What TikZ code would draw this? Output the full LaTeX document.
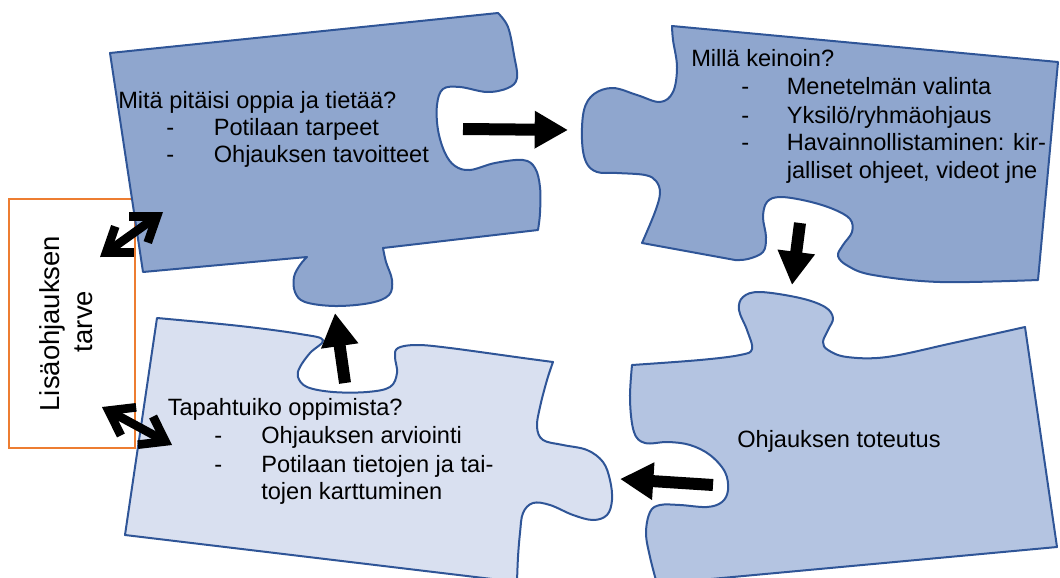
\documentclass[tikz,border=0pt]{standalone}
\usepackage{fontspec}
\setmainfont{Liberation Sans}
\usetikzlibrary{arrows.meta}
\definecolor{pieceDark}{RGB}{143,166,206}
\definecolor{pieceMid}{RGB}{180,196,225}
\definecolor{pieceLight}{RGB}{217,224,240}
\definecolor{pieceEdge}{RGB}{47,85,151}
\definecolor{boxOrange}{RGB}{237,125,49}
\begin{document}
\begin{tikzpicture}[x=0.75pt,y=-0.75pt,
  piece/.style={draw=pieceEdge, line width=1.5pt, line join=round},
  bodytext/.style={anchor=base west, inner sep=0pt, font=\fontsize{17.7}{20}\selectfont},
  boxtext/.style={anchor=base, inner sep=0pt, rotate=90, font=\fontsize{20.6}{24}\selectfont},
  flowarrow/.style={line width=9pt, -{Triangle[length=25pt,width=26.5pt]}},
  twoway/.style={line width=6.5pt,
    {Straight Barb[length=17pt,width=24pt]}-{Straight Barb[length=17pt,width=24pt]}},
]
\useasboundingbox (0,0) rectangle (1060,578);
\clip (0,0) rectangle (1060,578);

% frame for the extra-guidance label
\node[draw=boxOrange, line width=1.6pt, fill=white, minimum width=94.5pt,
      minimum height=186.75pt, inner sep=0pt] (needbox) at (72,323.5) {};
\node[boxtext] (needA) at (59,323.5) {Lisäohjauksen};
\node[boxtext] (needB) at (92.5,321.5) {tarve};

% piece 1: goals (top left)
\draw[piece, fill=pieceDark] (110,53) -- (498,13)
  -- plot[smooth, tension=0.6] coordinates {(498,13) (508,27) (514,55) (517,78) (508,88)
     (487,92) (460,87) (443,89) (437,105) (438,130) (445,153) (455,166) (470,170)
     (495,163) (523,160) (535,168) (540,187) (540,213) (538,230)}
  -- (383,248)
  -- plot[smooth, tension=0.6] coordinates {(383,248) (386,262) (392,280) (389,295)
     (370,303) (335,306) (305,302) (295,292) (294,277) (300,265) (307,257)}
  -- (143,272) -- cycle;

% piece 2: methods (top right)
\draw[piece, fill=pieceDark] (672,26) -- (1058,62) -- (1038,280)
  -- plot[smooth, tension=0.6] coordinates {(1038,280) (940,282) (873,275) (848,266)
     (838,256) (843,245) (852,232) (850,219) (833,209) (807,201) (780,197) (767,202)
     (763,217) (766,237) (763,252) (748,259) (735,260)}
  -- (642,243)
  -- plot[smooth, tension=0.6] coordinates {(642,243) (655,212) (660,193) (656,181)
     (645,175) (617,173) (597,172) (586,162) (582,140) (584,110) (594,94) (613,88)
     (637,95) (660,102) (673,92) (677,67) (673,40) (672,26)}
  -- cycle;

% piece 3: evaluation (bottom left)
\draw[piece, fill=pieceLight] (157,318)
  -- plot[smooth, tension=0.6] coordinates {(157,318) (240,326) (300,334) (323,340)
     (310,353) (300,367) (298,377) (307,387) (333,392) (367,392) (390,387) (397,373)
     (395,357) (398,348) (417,345) (450,348) (523,358) (553,362)}
  -- plot[smooth, tension=0.6] coordinates {(553,362) (547,380) (540,407) (537,427)
     (543,440) (563,445) (587,450) (603,462) (610,480) (612,500) (607,515) (593,520)
     (573,515) (550,505) (533,503) (523,513) (520,533) (518,557) (517,582)}
  -- (125,535) -- cycle;

% piece 4: implementation (bottom right)
\draw[piece, fill=pieceMid] (632,365)
  -- plot[smooth, tension=0.6] coordinates {(632,365) (700,360) (740,355) (752,349)
     (747,330) (739,310) (743,297) (760,292) (800,298) (825,307) (833,318) (828,330)
     (823,342) (828,350) (847,357) (887,357) (953,343) (1025,327)}
  -- (1057,547) -- (657,584)
  -- plot[smooth, tension=0.6] coordinates {(657,584) (650,557) (646,533) (650,512)
     (660,505) (680,505) (707,507) (722,502) (728,490) (725,472) (710,455) (690,445)
     (668,442) (645,443) (634,432) (630,400) (632,365)}
  -- cycle;

% texts inside the pieces
\node[bodytext] (t1) at (118,108) {Mitä pitäisi oppia ja tietää?};
\node[bodytext] (t1d1) at (166,135) {-};
\node[bodytext] (t1d2) at (166,162) {-};
\node[bodytext] (t1a) at (213.5,135) {Potilaan tarpeet};
\node[bodytext] (t1b) at (213.5,162) {Ohjauksen tavoitteet};

\node[bodytext] (t2) at (691,66) {Millä keinoin?};
\node[bodytext] (t2d1) at (741,94) {-};
\node[bodytext] (t2d2) at (741,123) {-};
\node[bodytext] (t2d3) at (741,150) {-};
\node[bodytext] (t2a) at (786.5,94) {Menetelmän valinta};
\node[bodytext] (t2b) at (786.5,123) {Yksilö/ryhmäohjaus};
\node[bodytext] (t2c) at (786.5,150) {Havainnollistaminen: kir-};
\node[bodytext] (t2e) at (786.5,178) {jalliset ohjeet, videot jne};

\node[bodytext] (t3) at (167.5,415) {Tapahtuiko oppimista?};
\node[bodytext] (t3d1) at (214,443) {-};
\node[bodytext] (t3d2) at (214,472) {-};
\node[bodytext] (t3a) at (261,443) {Ohjauksen arviointi};
\node[bodytext] (t3b) at (261,472) {Potilaan tietojen ja tai-};
\node[bodytext] (t3c) at (261,499) {tojen karttuminen};

\node[bodytext] (t4) at (737,447) {Ohjauksen toteutus};

% arrow end points
\coordinate (a1s) at (463,129);  \coordinate (a1e) at (568,130);
\coordinate (a2s) at (800,223);  \coordinate (a2e) at (792,285);
\coordinate (a3s) at (713,485);  \coordinate (a3e) at (620,479);
\coordinate (a4s) at (345,383);  \coordinate (a4e) at (335,313);
\coordinate (d1s) at (100,257);  \coordinate (d1e) at (163,212);
\coordinate (d2s) at (102,407);  \coordinate (d2e) at (172,445);

\draw[flowarrow] (a1s) -- (a1e);
\draw[flowarrow] (a2s) -- (a2e);
\draw[flowarrow] (a3s) -- (a3e);
\draw[flowarrow] (a4s) -- (a4e);
\draw[twoway] (d1s) -- (d1e);
\draw[twoway] (d2s) -- (d2e);
\end{tikzpicture}
\end{document}
